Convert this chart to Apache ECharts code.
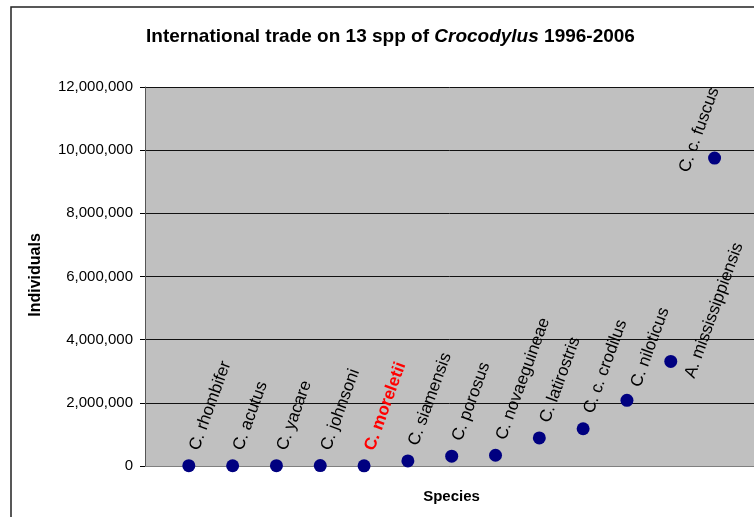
<!DOCTYPE html>
<html>
<head>
<meta charset="utf-8">
<script src="https://cdn.jsdelivr.net/npm/echarts@6/dist/echarts.min.js"></script>
<style>
html,body{margin:0;padding:0;background:#fff;}
#chart{width:754px;height:517px;}
</style>
</head>
<body>
<div id="chart"></div>
<script>
// ---- data ----
var species = ['C. rhombifer','C. acutus','C. yacare','C. johnsoni','C. moreletii','C. siamensis','C. porosus','C. novaeguineae','C. latirostris','C. c. crodilus','C. niloticus','A. mississippiensis','C. c. fuscus'];
var individuals = [10000, 8000, 9000, 12000, 6000, 160000, 310000, 340000, 890000, 1180000, 2080000, 3310000, 9750000];
var yTicks = [0, 2000000, 4000000, 6000000, 8000000, 10000000, 12000000];
var highlighted = 'C. moreletii';

// ---- label placement (style, not data) ----
var defaultLabelPos = [12, -9.5];
var labelPosOverride = { 'C. niloticus': [15.5, -7.5], 'A. mississippiensis': [25.5, 22.5], 'C. c. fuscus': [-24, 20] };

var seriesData = species.map(function (name, i) {
  var lbl = { position: labelPosOverride[name] || defaultLabelPos };
  if (name === highlighted) { lbl.color = '#ff0000'; lbl.fontWeight = 'bold'; }
  return { name: name, value: [i + 1, individuals[i]], label: lbl };
});

var chart = echarts.init(document.getElementById('chart'), null, { renderer: 'canvas' });
chart.setOption({
  animation: false,
  backgroundColor: '#ffffff',
  textStyle: { fontFamily: 'Liberation Sans, Arial, sans-serif' },
  grid: { left: 145, top: 87, right: 0, height: 379, show: true, backgroundColor: '#c0c0c0', borderWidth: 0 },
  graphic: [
    { type: 'rect', z: 100, silent: true, shape: { x: 11, y: 7, width: 900, height: 700 }, style: { fill: 'none', stroke: '#222', lineWidth: 1.5 } },
    { type: 'text', x: 390.5, y: 36.5, silent: true,
      style: { text: '{b|International trade on 13 spp of }{i|Crocodylus}{b| 1996-2006}', align: 'center', verticalAlign: 'middle',
        rich: { b: { fontSize: 19, fontWeight: 'bold', fontFamily: 'Liberation Sans, Arial, sans-serif', fill: '#000' },
                i: { fontSize: 19, fontWeight: 'bold', fontStyle: 'italic', fontFamily: 'Liberation Sans, Arial, sans-serif', fill: '#000' } } } },
    { type: 'text', x: 35.5, y: 275, rotation: Math.PI / 2, silent: true,
      style: { text: 'Individuals', fontSize: 16, fontWeight: 'bold', fontFamily: 'Liberation Sans, Arial, sans-serif', fill: '#000', align: 'center', verticalAlign: 'middle' } },
    { type: 'text', x: 451.5, y: 496.5, silent: true,
      style: { text: 'Species', fontSize: 15, fontWeight: 'bold', fontFamily: 'Liberation Sans, Arial, sans-serif', fill: '#000', align: 'center', verticalAlign: 'middle' } }
  ],
  xAxis: {
    type: 'value', min: 0, max: 13.9,
    axisLine: { show: true, onZero: false, lineStyle: { color: '#808080', width: 1 } },
    axisTick: { show: false }, axisLabel: { show: false }, splitLine: { show: false }
  },
  yAxis: {
    type: 'value', min: yTicks[0], max: yTicks[yTicks.length - 1], interval: yTicks[1] - yTicks[0],
    axisLine: { show: true, lineStyle: { color: '#555', width: 1 } },
    axisTick: { show: true, inside: false, length: 5, lineStyle: { color: '#000' } },
    axisLabel: { margin: 12, fontSize: 15, color: '#000', fontFamily: 'Liberation Sans, Arial, sans-serif',
      formatter: function (v) { return v.toLocaleString('en-US'); } },
    splitLine: { show: true, lineStyle: { color: '#111', width: 1 } }
  },
  series: [{
    type: 'scatter',
    data: seriesData,
    symbol: 'circle', symbolSize: 13,
    itemStyle: { color: '#000080', opacity: 1 },
    label: {
      show: true, formatter: '{b}', rotate: 70, align: 'left', verticalAlign: 'middle',
      fontSize: 17, color: '#000', fontFamily: 'Liberation Sans, Arial, sans-serif'
    },
    labelLayout: { hideOverlap: false }
  }]
});
</script>
</body>
</html>
